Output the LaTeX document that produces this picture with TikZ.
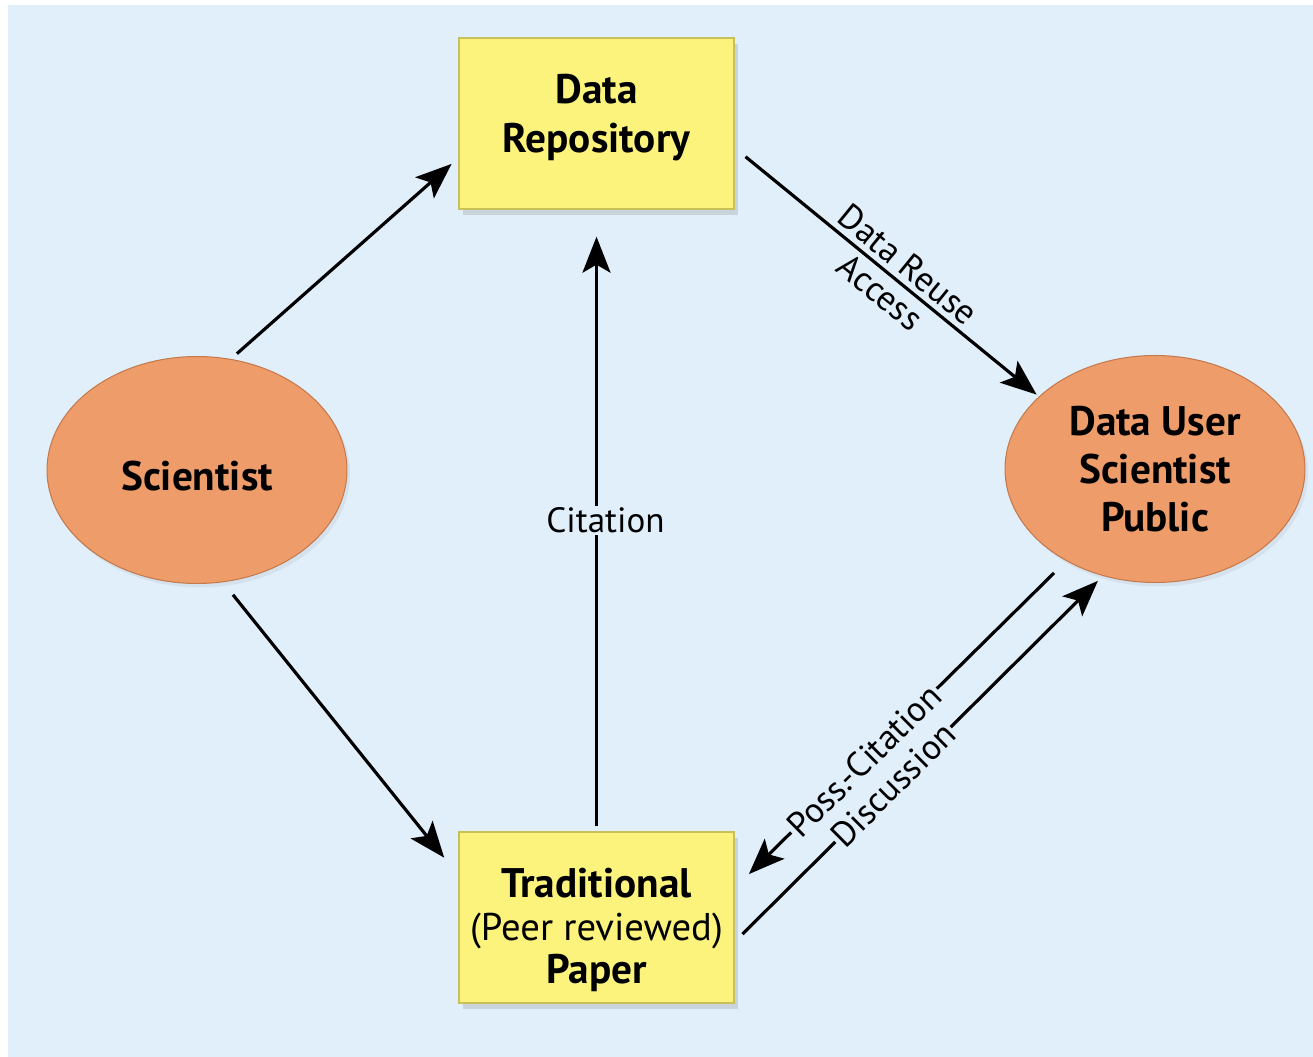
\documentclass[tikz,border=0pt]{standalone}
\usepackage{fontspec}
\setmainfont{PT Sans}
\usetikzlibrary{arrows.meta,shapes.geometric,shadows}
\definecolor{panelBlue}{HTML}{E1EFFB}
\definecolor{noteYellow}{HTML}{FBF37C}
\definecolor{noteEdge}{HTML}{C9C05A}
\definecolor{ovalOrange}{HTML}{EE9D6A}
\definecolor{ovalEdge}{HTML}{C47A4C}
\newcommand{\boxText}{\fontsize{23.5}{27.5}\selectfont}
\newcommand{\paperText}{\fontsize{23.5}{24.5}\selectfont}
\newcommand{\flowText}{\fontsize{20}{22}\selectfont}

\begin{document}
\begin{tikzpicture}[x=0.02cm, y=-0.02cm, ->, >={Stealth[length=0.72cm,width=0.56cm,inset=0.16cm]}, line width=1.8pt]
        \tikzset{
           noteBox/.style={
                        rectangle,
                        draw=noteEdge,
                        line width=0.8pt,
                        fill=noteYellow,
                        text=black,
                        minimum width=5.5cm,
                        minimum height=3.42cm,
                        align=center,
                        font=\boxText\bfseries,
                        drop shadow={shadow xshift=0.08cm, shadow yshift=-0.12cm, opacity=0.25}
                       },
           actorOval/.style={
                        ellipse,
                        draw=ovalEdge,
                        line width=0.6pt,
                        fill=ovalOrange,
                        text=black,
                        minimum width=6cm,
                        minimum height=4.54cm,
                        inner sep=0pt,
                        align=center,
                        font=\boxText\bfseries,
                        drop shadow={shadow xshift=0.06cm, shadow yshift=-0.08cm, opacity=0.12}
                       },
           flowTag/.style={
                        font=\flowText,
                        text=black,
                        fill=panelBlue,
                        inner sep=1pt
                       },
           flowNote/.style={
                        font=\flowText,
                        text=black,
                        inner sep=3pt
                       },
                 };
    %--------------------
        \useasboundingbox (0,0) rectangle (1313,1057);
        \fill[panelBlue] (8,5) rectangle (1313,1057);
    %--------------------
        \node[noteBox]   (dataRepo)  at (596.5,123.5) {Data\\Repository\rule[-0.4cm]{0pt}{0.4cm}};
        \node[noteBox, font=\paperText\bfseries]
                         (tradPaper) at (596.5,917.5) {\rule{0pt}{1.08cm}Traditional\\
                                                      {\mdseries\fontsize{22}{24.5}\selectfont(Peer reviewed)}\\Paper};
        \node[actorOval] (scientist) at (197,470)     {\rule{0pt}{0.84cm}Scientist};
        \node[actorOval] (dataUser)  at (1155,469)    {Data User\\Scientist\\Public};
    %--------------------
        \path (scientist.73)    edge[shorten <=0.16cm, shorten >=0.18cm] (dataRepo.194)
              (scientist.-77)   edge[shorten <=0.32cm, shorten >=0.45cm] (tradPaper.163)

              (tradPaper.north) edge[shorten <=0.1cm, shorten >=0.54cm]
                                node[flowTag, pos=0.5, xshift=0.18cm] {Citation} (dataRepo.south)

              (dataRepo.-10.5)  edge[shorten <=0.28cm, shorten >=0.06cm]
                                node[flowNote, sloped, above, pos=0.53] {Data Reuse}
                                node[flowNote, sloped, below, pos=0.52] {Access} (dataUser.148.7)

              (dataUser.226.7)  edge[shorten <=0.34cm, shorten >=0.4cm]
                                node[flowTag, sloped, pos=0.61] {Poss.-Citation} (tradPaper.12)
              (tradPaper.-10.5) edge[shorten <=0.22cm, shorten >=0.14cm]
                                node[flowTag, sloped, pos=0.43] {Discussion} (dataUser.244);
    \end{tikzpicture}
\end{document}
